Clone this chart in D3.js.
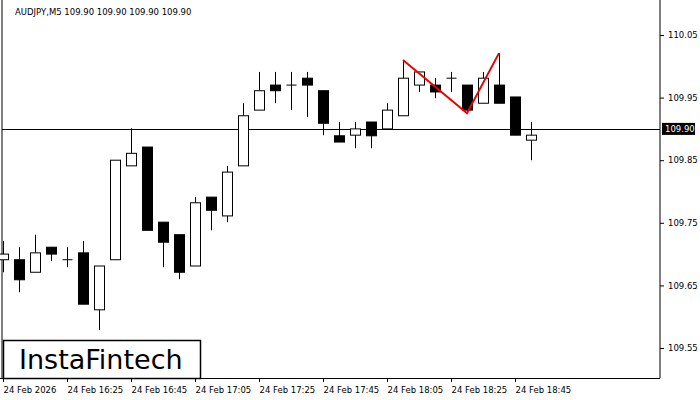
<!DOCTYPE html>
<html><head><meta charset="utf-8">
<script src="https://cdn.jsdelivr.net/npm/d3@7"></script>
<style>body{margin:0;background:#fff}text{font-family:"DejaVu Sans",sans-serif}</style>
</head><body><div id="chart"></div>
<script>
const times = ["16:05","16:10","16:15","16:20","16:25","16:30","16:35","16:40","16:45","16:50","16:55","17:00","17:05","17:10","17:15","17:20","17:25","17:30","17:35","17:40","17:45","17:50","17:55","18:00","18:05","18:10","18:15","18:20","18:25","18:30","18:35","18:40","18:45","18:50"]
const open  = [109.691,109.691,109.671,109.711,109.691,109.702,109.611,109.691,109.841,109.871,109.751,109.731,109.681,109.791,109.761,109.841,109.930,109.970,109.970,109.981,109.961,109.889,109.890,109.911,109.900,109.921,109.970,109.970,109.981,109.970,109.941,109.970,109.951,109.882]
const close = [109.700,109.659,109.702,109.700,109.691,109.620,109.681,109.850,109.861,109.738,109.719,109.671,109.782,109.770,109.831,109.921,109.961,109.961,109.970,109.970,109.909,109.879,109.900,109.889,109.930,109.981,109.991,109.959,109.981,109.930,109.981,109.941,109.890,109.890]
const high  = [109.721,109.711,109.731,109.711,109.711,109.721,109.681,109.850,109.901,109.871,109.751,109.731,109.791,109.791,109.841,109.941,109.991,109.991,109.991,109.991,109.961,109.911,109.911,109.911,109.941,110.010,109.991,109.981,109.991,109.970,109.991,110.021,109.951,109.911]
const low   = [109.671,109.639,109.702,109.689,109.679,109.620,109.579,109.691,109.841,109.738,109.679,109.660,109.681,109.738,109.751,109.841,109.930,109.941,109.930,109.919,109.890,109.879,109.869,109.869,109.900,109.921,109.959,109.949,109.959,109.925,109.941,109.941,109.890,109.850]
const yTicks = [109.55,109.65,109.75,109.85,109.95,110.05]
const pattern = [[25,110.010],[29,109.925],[31,110.021]]
const current = 109.90

const W = 700, H = 400, plotR = 660, plotB = 378
const svg = d3.select("#chart").append("svg").attr("width", W).attr("height", H)

const x = d3.scaleLinear().domain([0, 1]).range([3, 19])
const y = d3.scaleLinear().domain([109.55, 110.05]).range([348, 35])

svg.append("line").attr("x1", 2).attr("x2", 2).attr("y1", 0).attr("y2", plotB).attr("stroke", "#000")
svg.append("line").attr("x1", plotR).attr("x2", plotR).attr("y1", 0).attr("y2", plotB).attr("stroke", "#000")
svg.append("line").attr("x1", 0).attr("x2", plotR).attr("y1", plotB + 0.5).attr("y2", plotB + 0.5).attr("stroke", "#000")

// price axis
const yAxis = svg.append("g").attr("transform", "translate(" + plotR + ",0)")
  .call(d3.axisRight(y).tickValues(yTicks).tickFormat(d3.format(".2f")).tickSize(4))
yAxis.select(".domain").remove()
yAxis.selectAll("text").attr("font-size", 8.5).attr("x", 8).attr("fill", "#000")

// time axis
const idx = d3.range(0, times.length, 4)
const xAxis = svg.append("g").attr("transform", "translate(0," + plotB + ")")
  .call(d3.axisBottom(x).tickValues(idx).tickSize(4).tickFormat(i => i === 0 ? "24 Feb 2026" : "24 Feb " + times[i]))
xAxis.select(".domain").remove()
xAxis.selectAll("text").attr("font-size", 8.5).attr("text-anchor", "start").attr("x", 0).attr("dy", "0.9em").attr("fill", "#000")

// current price line
svg.append("line").attr("x1", 2).attr("x2", plotR).attr("y1", Math.round(y(current)) + 0.5).attr("y2", Math.round(y(current)) + 0.5).attr("stroke", "#000")
svg.append("rect").attr("x", plotR + 2).attr("y", y(current) - 6).attr("width", 33).attr("height", 12).attr("fill", "#000")
svg.append("text").attr("x", plotR + 5).attr("y", y(current) + 3.5).attr("font-size", 8.5).attr("fill", "#fff").text("109.90")

// candles
const g = svg.append("g")
times.forEach((t, i) => {
  const cx = Math.round(x(i)) + 0.5
  g.append("line").attr("x1", cx).attr("x2", cx).attr("y1", y(high[i])).attr("y2", y(low[i])).attr("stroke", "#000")
  const top = y(Math.max(open[i], close[i])), bot = y(Math.min(open[i], close[i]))
  if (bot - top < 1) {
    g.append("line").attr("x1", cx - 5).attr("x2", cx + 5).attr("y1", top).attr("y2", top).attr("stroke", "#000")
  } else {
    g.append("rect").attr("x", cx - 5).attr("y", top).attr("width", 10).attr("height", bot - top)
      .attr("fill", close[i] >= open[i] ? "#fff" : "#000").attr("stroke", "#000")
  }
})

svg.append("path").attr("d", d3.line(d => x(d[0]), d => y(d[1]))(pattern))
  .attr("fill", "none").attr("stroke", "#e00").attr("stroke-width", 2)

svg.append("text").attr("x", 15).attr("y", 15).attr("font-size", 8.5).attr("fill", "#000")
  .text("AUDJPY,M5  109.90 109.90 109.90 109.90")

// logo
svg.append("rect").attr("x", 3.5).attr("y", 340.5).attr("width", 197).attr("height", 38).attr("fill", "#fff").attr("stroke", "#000").attr("stroke-width", 1.5)
svg.append("text").attr("x", 19).attr("y", 369).attr("font-size", 27).attr("font-weight", 500).attr("font-family", "Roboto").attr("fill", "#000").text("InstaFintech")
</script></body></html>
